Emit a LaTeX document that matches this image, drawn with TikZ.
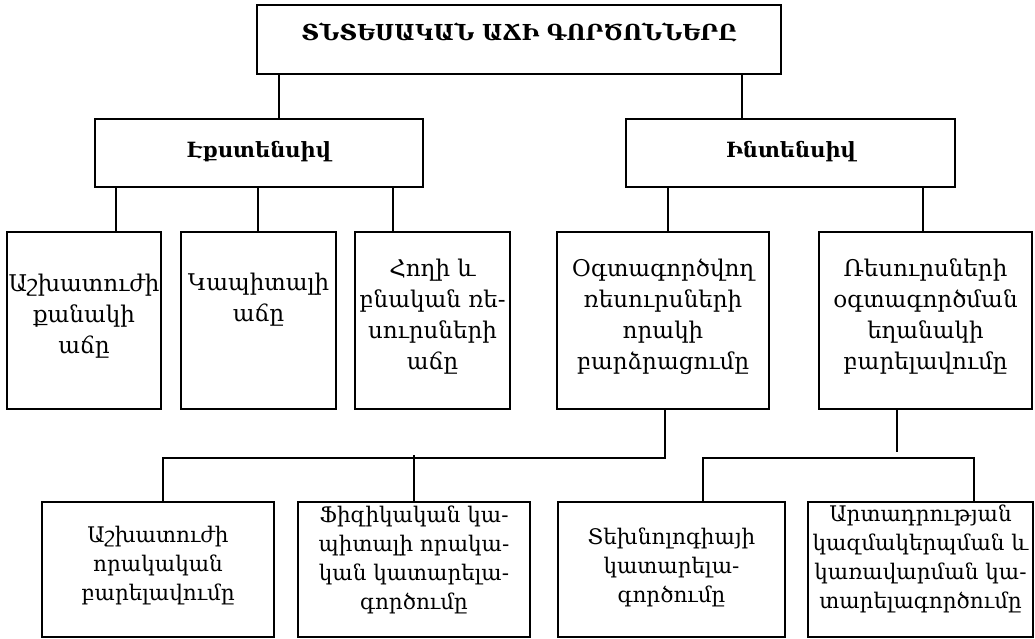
\documentclass[tikz,border=0pt]{standalone}
\usepackage{fontspec}
\setmainfont{DejaVu Serif}
\begin{document}
\begin{tikzpicture}[x=1pt,y=-1pt,
  box/.style={draw,line width=1.3pt,inner sep=0pt},
  txt/.style={align=center,inner sep=0pt,font=\fontsize{23}{31}\selectfont},
  txtb/.style={align=center,inner sep=0pt,font=\fontsize{21.5}{29}\selectfont},
  hd/.style={inner sep=0pt,font=\fontsize{21}{24}\selectfont\bfseries},
  hdtop/.style={inner sep=0pt,font=\fontsize{22}{24}\selectfont\bfseries},
  con/.style={line width=1.3pt}]
\useasboundingbox (0,0) rectangle (1035,639);
% boxes
\node[box,minimum width=524pt,minimum height=69pt] (top) at (519,39.5) {};
\node[box,minimum width=328pt,minimum height=68pt] (ext) at (259,153) {};
\node[box,minimum width=329pt,minimum height=68pt] (int) at (790.5,153) {};
\node[box,minimum width=154pt,minimum height=177pt] (m1) at (84,320.5) {};
\node[box,minimum width=155pt,minimum height=177pt] (m2) at (258.5,320.5) {};
\node[box,minimum width=155pt,minimum height=177pt] (m3) at (432.5,320.5) {};
\node[box,minimum width=212pt,minimum height=177pt] (m4) at (663,320.5) {};
\node[box,minimum width=213pt,minimum height=177pt] (m5) at (925.5,320.5) {};
\node[box,minimum width=232pt,minimum height=135pt] (b1) at (158,569.5) {};
\node[box,minimum width=232pt,minimum height=135pt] (b2) at (414,569.5) {};
\node[box,minimum width=227pt,minimum height=135pt] (b3) at (671.5,569.5) {};
\node[box,minimum width=225pt,minimum height=135pt] (b4) at (920.5,569.5) {};
% texts
\node[hdtop] (ttop) at (519,32) {ՏՆՏԵՍԱԿԱՆ ԱՃԻ ԳՈՐԾՈՆՆԵՐԸ};
\node[hd] (text) at (259,152) {Էքստենսիվ};
\node[hd] (tint) at (791,152) {Ինտենսիվ};
\node[txt] (tm1) at (84,316) {Աշխատուժի\\քանակի\\աճը};
\node[txt] (tm2) at (258.5,300) {Կապիտալի\\աճը};
\node[txt] (tm3) at (432.5,317) {Հողի և\\բնական ռե-\\սուրսների\\աճը};
\node[txt] (tm4) at (663,317) {Օգտագործվող\\ռեսուրսների\\որակի\\բարձրացումը};
\node[txt] (tm5) at (925.5,317) {Ռեսուրսների\\օգտագործման\\եղանակի\\բարելավումը};
\node[txtb] (tb1) at (158,566) {Աշխատուժի\\որակական\\բարելավումը};
\node[txtb] (tb2) at (414,560) {Ֆիզիկական կա-\\պիտալի որակա-\\կան կատարելա-\\գործումը};
\node[txtb] (tb3) at (671.5,567) {Տեխնոլոգիայի\\կատարելա-\\գործումը};
\node[txtb] (tb4) at (920.5,559) {Արտադրության\\կազմակերպման և\\կառավարման կա-\\տարելագործումը};
% junction coordinates
\coordinate (c1) at (279,0);
\coordinate (c2) at (742,0);
\coordinate (c3) at (116,0);
\coordinate (c4) at (258,0);
\coordinate (c5) at (393,0);
\coordinate (c6) at (668,0);
\coordinate (c7) at (923,0);
\coordinate (c8) at (665,458);
\coordinate (c9) at (163,458);
\coordinate (c10) at (414,455);
\coordinate (c11) at (897,452);
\coordinate (c12) at (703,458);
\coordinate (c13) at (974,458);
% connectors
\draw[con] (top.south -| c1) -- (ext.north -| c1);
\draw[con] (top.south -| c2) -- (int.north -| c2);
\draw[con] (ext.south -| c3) -- (m1.north -| c3);
\draw[con] (ext.south -| c4) -- (m2.north -| c4);
\draw[con] (ext.south -| c5) -- (m3.north -| c5);
\draw[con] (int.south -| c6) -- (m4.north -| c6);
\draw[con] (int.south -| c7) -- (m5.north -| c7);
\draw[con] (m4.south -| c8) -- (c8) -- (c9) -- (b1.north -| c9);
\draw[con] (c10) -- (b2.north -| c10);
\draw[con] (m5.south -| c11) -- (c11);
\draw[con] (b3.north -| c12) -- (c12) -- (c13) -- (b4.north -| c13);
\end{tikzpicture}
\end{document}
